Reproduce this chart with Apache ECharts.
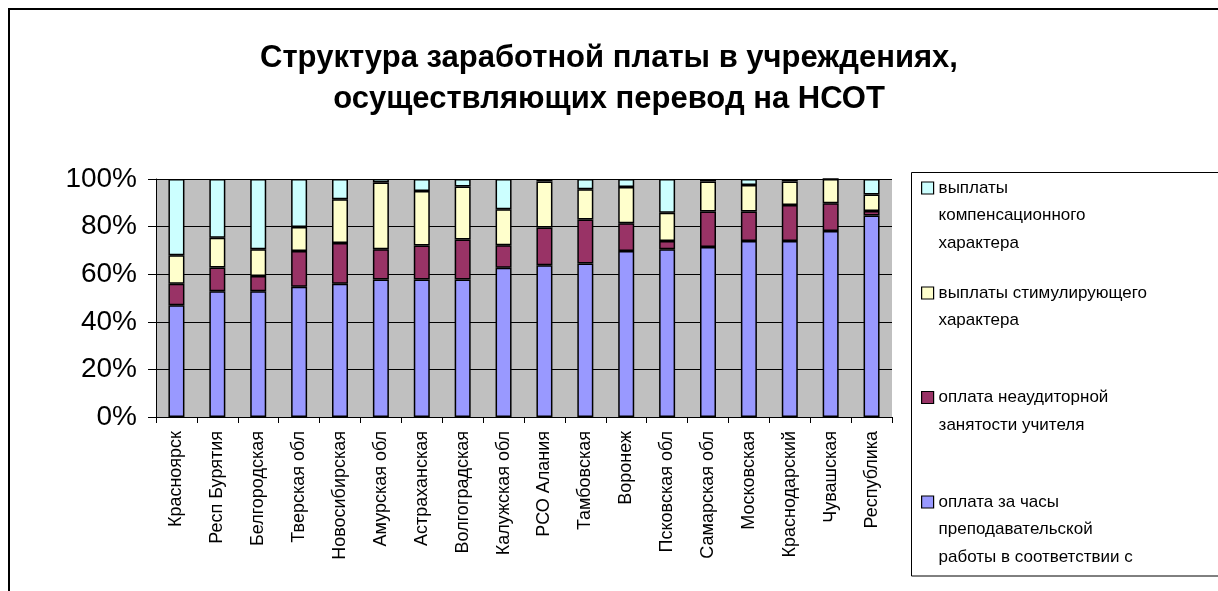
<!DOCTYPE html>
<html>
<head>
<meta charset="utf-8">
<script src="https://cdn.jsdelivr.net/npm/echarts@6/dist/echarts.min.js"></script>
<style>
html,body{margin:0;padding:0;background:#fff;}
#c{width:1218px;height:591px;}
</style>
</head>
<body>
<div id="c"></div>
<script>
const categories = ['Красноярск','Респ Бурятия','Белгородская','Тверская обл','Новосибирская','Амурская обл','Астраханская','Волгоградская','Калужская обл','РСО Алания','Тамбовская','Воронеж','Псковская обл','Самарская обл','Московская','Краснодарский','Чувашская','Республика'];
const teaching = [47, 52.8, 52.8, 54.7, 56, 57.8, 57.8, 57.8, 62.7, 63.8, 64.5, 69.8, 70.5, 71.4, 74, 74, 78.1, 84.7];
const extraWork = [9, 10, 6.4, 15.1, 17.1, 12.7, 14.3, 16.8, 9.5, 15.8, 18.5, 11.6, 3.4, 14.9, 12.3, 15.1, 11.7, 1.9];
const incentive = [12, 12.5, 11.3, 10, 18.4, 28, 22.9, 22.2, 15.1, 19.4, 12.7, 15.2, 11.9, 12.7, 11.2, 9.9, 10.2, 6.9];
const compensation = [32, 24.7, 29.5, 20.2, 8.5, 1.5, 5, 3.2, 12.7, 1, 4.3, 3.4, 14.2, 1, 2.5, 1, 0, 6.5];
const yTicks = [0, 20, 40, 60, 80, 100];

const seriesNames = [
  'оплата за часы преподавательской работы в соответствии с',
  'оплата неаудиторной занятости учителя',
  'выплаты стимулирующего характера',
  'выплаты компенсационного характера'
];
const legendLines = [
  ['оплата за часы', 'преподавательской', 'работы в соответствии с'],
  ['оплата неаудиторной', 'занятости учителя'],
  ['выплаты стимулирующего', 'характера'],
  ['выплаты', 'компенсационного', 'характера']
];
const colors = ['#9999FF', '#993366', '#FFFFCC', '#CCFFFF'];
const dataSets = [teaching, extraWork, incentive, compensation];

const LH = 27.5;
const legendCenters = [502, 397.5, 293, 188];
const legends = seriesNames.map((name, i) => {
  const lines = legendLines[i];
  const n = lines.length;
  const total = (2 * n - 1) * LH;
  // leading empty lines keep the icon level with the first text line
  const text = new Array(n - 1).fill('').concat(lines).join('\n');
  return {
    show: true,
    data: [name],
    orient: 'vertical',
    left: 921,
    top: legendCenters[i] - total / 2,
    padding: 0,
    itemWidth: 12,
    itemHeight: 12,
    itemGap: 0,
    icon: 'rect',
    formatter: () => text,
    textStyle: {
      fontFamily: 'Liberation Sans, Arial, sans-serif',
      fontSize: 17,
      color: '#000',
      lineHeight: LH
    },
    itemStyle: { borderColor: '#000', borderWidth: 1.2 }
  };
});

const option = {
  animation: false,
  backgroundColor: '#fff',
  title: {
    text: 'Структура заработной платы в учреждениях,\nосуществляющих перевод на НСОТ',
    left: 'center',
    top: 33,
    padding: [5, 5, 5, 25],
    textStyle: {
      fontFamily: 'Liberation Sans, Arial, sans-serif',
      fontSize: 31,
      fontWeight: 'bold',
      color: '#000',
      lineHeight: 41
    }
  },
  legend: legends,
  graphic: [
    { type: 'rect', shape: { x: 9, y: 9, width: 1400, height: 700 }, style: { fill: 'none', stroke: '#000', lineWidth: 2 }, z: 100 },
    { type: 'rect', shape: { x: 911.5, y: 172.5, width: 400, height: 403.5 }, style: { fill: 'none', stroke: '#000', lineWidth: 1 }, z: 100 }
  ],
  grid: { left: 156, right: 326, top: 179, bottom: 174, show: true, backgroundColor: '#C0C0C0', borderWidth: 0 },
  xAxis: {
    type: 'category',
    data: categories,
    axisLine: { lineStyle: { color: '#000', width: 1 } },
    axisTick: { show: true, length: 6, lineStyle: { color: '#000' } },
    axisLabel: {
      rotate: 90,
      interval: 0,
      margin: 14,
      fontFamily: 'Liberation Sans, Arial, sans-serif',
      fontSize: 18,
      color: '#000'
    }
  },
  yAxis: {
    type: 'value',
    min: yTicks[0],
    max: yTicks[yTicks.length - 1],
    interval: 20,
    axisLine: { show: true, lineStyle: { color: '#000', width: 1 } },
    axisTick: { show: true, length: 8, lineStyle: { color: '#000' } },
    splitLine: { show: true, lineStyle: { color: '#000', width: 1 } },
    axisLabel: {
      formatter: '{value}%',
      margin: 19,
      fontFamily: 'Liberation Sans, Arial, sans-serif',
      fontSize: 28,
      color: '#000'
    }
  },
  series: seriesNames.map((name, i) => ({
    name: name,
    type: 'bar',
    stack: 'total',
    barWidth: 16,
    data: dataSets[i],
    itemStyle: { color: colors[i], borderColor: '#000', borderWidth: 1.5 }
  }))
};

const chart = echarts.init(document.getElementById('c'), null, { renderer: 'canvas' });
chart.setOption(option);
</script>
</body>
</html>
